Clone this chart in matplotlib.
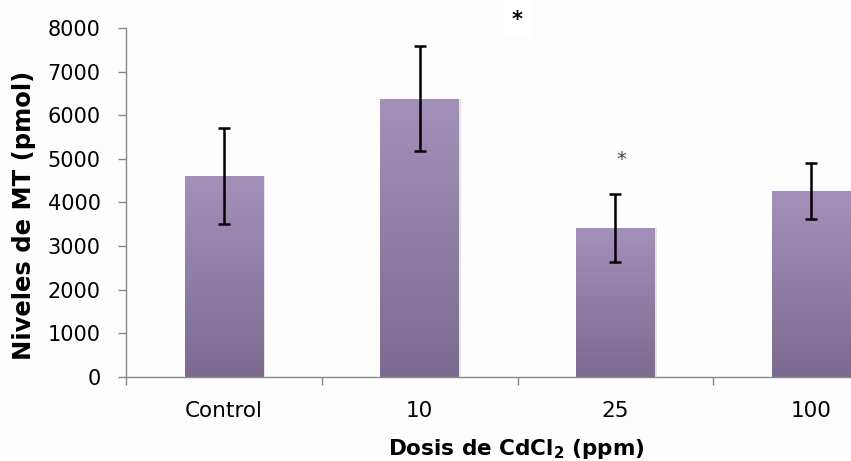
import numpy as np
import matplotlib
matplotlib.use("Agg")
import matplotlib.pyplot as plt
from matplotlib.colors import LinearSegmentedColormap

# ---- data ----
categories = ["Control", "10", "25", "100"]
values = [4600, 6380, 3410, 4270]
errors = [1100, 1200, 780, 640]
yticks = [0, 1000, 2000, 3000, 4000, 5000, 6000, 7000, 8000]
star_positions = [1.5, 2.03]
star_heights = [8190, 4980]

W, H = 851, 461
fig = plt.figure(figsize=(W / 100, H / 100), dpi=100, facecolor="#fdfdfd")
ax = fig.add_axes([126 / W, 1 - 377 / H, 783 / W, 349 / H])
ax.set_facecolor("none")

x = np.arange(len(categories))
bars = ax.bar(x, values, width=0.4, color="none", edgecolor="none", zorder=2)

cmap = LinearSegmentedColormap.from_list("grad", ["#7c6a90", "#a391bb"])
grad = np.linspace(0, 1, 256).reshape(-1, 1)
for b in bars:
    x0 = b.get_x()
    w = b.get_width()
    h = b.get_height()
    # faint shadow on the right
    ax.bar(x0 + w / 2 + 0.012, h, width=w, color="#d8d4dc", edgecolor="none",
           zorder=1.5, alpha=0.6)
    im = ax.imshow(grad, extent=[x0, x0 + w, 0, h], origin="lower",
                   cmap=cmap, aspect="auto", zorder=2, interpolation="bicubic")
    im.set_clip_path(b)

ax.errorbar(x, values, yerr=errors, fmt="none", ecolor="black",
            elinewidth=1.8, capsize=4, capthick=1.8, zorder=3)

ax.set_xlim(-0.5, 3.5)
ax.set_ylim(0, 8000)

for s in ["top", "right"]:
    ax.spines[s].set_visible(False)
for s in ["left", "bottom"]:
    ax.spines[s].set_color("#888888")
    ax.spines[s].set_linewidth(1.0)

ax.set_yticks(yticks)
ax.set_yticklabels([str(v) for v in yticks], fontsize=15, family="DejaVu Sans")
ax.tick_params(axis="y", length=5.8, width=1, color="#888888", pad=12.5)

ax.set_xticks(x)
ax.set_xticklabels(categories, fontsize=15.5, family="DejaVu Sans")
ax.tick_params(axis="x", which="major", length=0, pad=17)
ax.set_xticks(np.arange(-0.5, 4, 1), minor=True)
ax.tick_params(axis="x", which="minor", length=5.8, width=1, color="#888888")

# significance stars
ax.text(star_positions[0], star_heights[0], "*", ha="center", va="center",
        fontsize=15, fontweight="bold", color="black", clip_on=False,
        bbox=dict(fc="white", ec="none", pad=6))
ax.text(star_positions[1], star_heights[1], "*", ha="center", va="center",
        fontsize=14, color="#444444", clip_on=False)

fig.text(24 / W, 1 - 215 / H, "Niveles de MT (pmol)", rotation=90,
         ha="center", va="center", fontsize=17.5, fontweight="bold",
         family="DejaVu Sans")
fig.text(516 / W, 1 - 449 / H, r"Dosis de CdCl$_{\mathbf{2}}$ (ppm)",
         ha="center", va="center", fontsize=15.5, fontweight="bold",
         family="DejaVu Sans")

fig.savefig("out.png", dpi=100, facecolor=fig.get_facecolor())
